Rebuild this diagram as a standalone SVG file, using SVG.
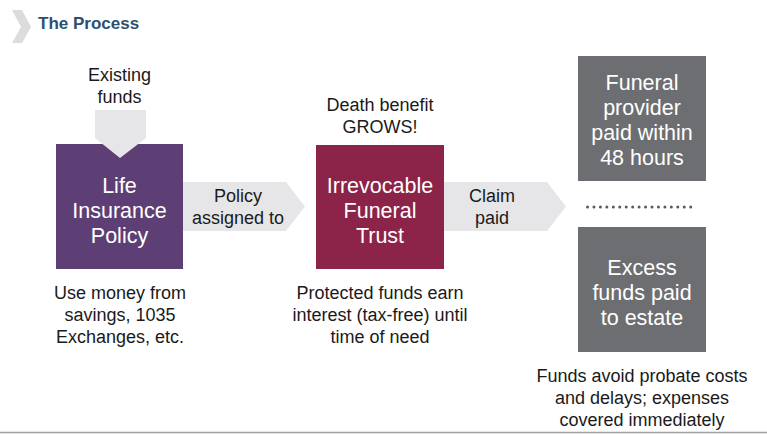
<svg xmlns="http://www.w3.org/2000/svg" width="767" height="434" viewBox="0 0 767 434">
<style>
text{font-family:"Liberation Sans",Arial,sans-serif;text-anchor:middle}
.lbl{font-size:18px;fill:#1a1a1a}
.box{font-size:21.5px;fill:#ffffff}
.arr{fill:#e6e6e8}
</style>
<rect width="767" height="434" fill="#ffffff"/>
<g id="header">
<polygon points="12,10 22,10 31,27 22,43 12,43 21,27" fill="#dcdcdc"/>
<text x="38" y="29" style="text-anchor:start;font-size:17px;font-weight:bold;fill:#2e5070">The Process</text>
</g>
<line x1="0" y1="432.5" x2="767" y2="432.5" stroke="#a0a0a0" stroke-width="1.5"/>
<g id="life-policy">
<rect x="56" y="144" width="127" height="125" fill="#5d3f75"/>
<text class="box" x="119.5" y="193">Life</text>
<text class="box" x="119.5" y="218">Insurance</text>
<text class="box" x="119.5" y="243">Policy</text>
</g>
<g id="trust">
<rect x="316" y="145" width="128" height="124" fill="#8c2449"/>
<text class="box" x="380" y="193">Irrevocable</text>
<text class="box" x="380" y="218">Funeral</text>
<text class="box" x="380" y="243">Trust</text>
</g>
<g id="provider">
<rect x="578" y="56" width="128" height="125" fill="#6d6e71"/>
<text class="box" x="642" y="90">Funeral</text>
<text class="box" x="642" y="115">provider</text>
<text class="box" x="642" y="140">paid within</text>
<text class="box" x="642" y="165">48 hours</text>
</g>
<g id="estate">
<rect x="578" y="227" width="128" height="125" fill="#6d6e71"/>
<text class="box" x="642" y="275">Excess</text>
<text class="box" x="642" y="300">funds paid</text>
<text class="box" x="642" y="325">to estate</text>
</g>
<g id="connectors">
<polygon class="arr" points="95,110 146,110 146,138 120,158 95,138"/>
<polygon class="arr" points="183,182 286,182 305,206.5 286,231 183,231"/>
<polygon class="arr" points="444,182 547,182 566,206.5 547,231 444,231"/>
<line x1="587.5" y1="207" x2="697" y2="207" stroke="#5a5a5a" stroke-width="3" stroke-dasharray="0 6.45" stroke-linecap="round"/>
<text class="lbl" x="119.5" y="81">Existing</text>
<text class="lbl" x="119.5" y="103">funds</text>
<text class="lbl" x="238" y="202">Policy</text>
<text class="lbl" x="238" y="224">assigned to</text>
<text class="lbl" x="380" y="111">Death benefit</text>
<text class="lbl" x="380" y="133">GROWS!</text>
<text class="lbl" x="492" y="202">Claim</text>
<text class="lbl" x="492" y="224">paid</text>
</g>
<g id="notes">
<text class="lbl" x="120" y="299">Use money from</text>
<text class="lbl" x="120" y="321">savings, 1035</text>
<text class="lbl" x="120" y="343">Exchanges, etc.</text>
<text class="lbl" x="380" y="299">Protected funds earn</text>
<text class="lbl" x="380" y="321">interest (tax-free) until</text>
<text class="lbl" x="380" y="343">time of need</text>
<text class="lbl" x="642" y="382">Funds avoid probate costs</text>
<text class="lbl" x="642" y="404">and delays; expenses</text>
<text class="lbl" x="642" y="426">covered immediately</text>
</g>
</svg>
